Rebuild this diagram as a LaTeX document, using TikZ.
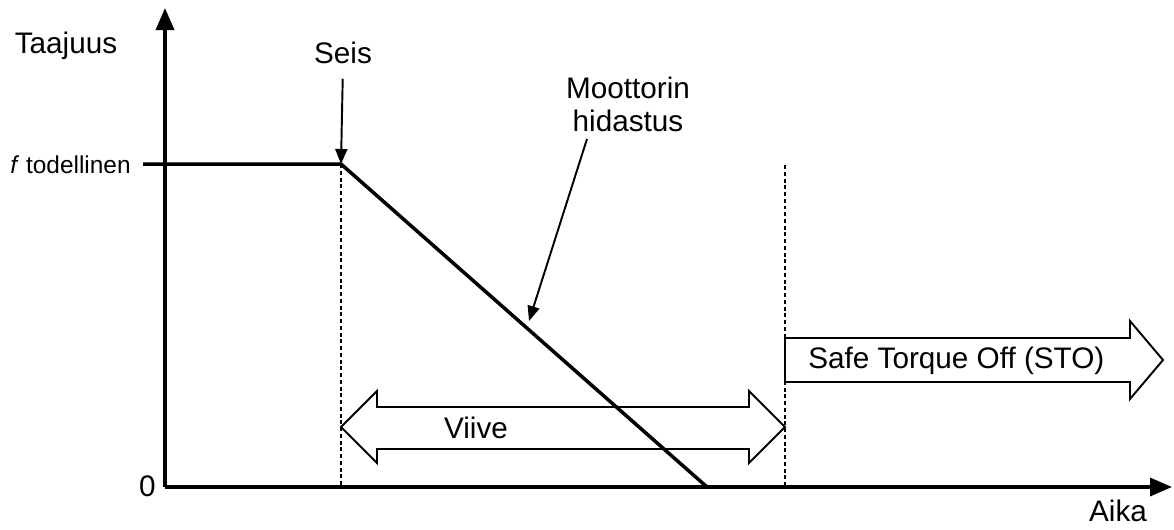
\documentclass[tikz,border=0pt]{standalone}
\usepackage{fontspec}
\setmainfont{Liberation Sans}
\usetikzlibrary{arrows.meta}

\begin{document}
\begin{tikzpicture}[
    x=0.02cm, y=-0.02cm,
    axis/.style={line width=2pt, -{Triangle[length=0.44cm, width=0.36cm]}},
    curve/.style={line width=2pt},
    guide/.style={line width=1.1pt, dash pattern=on 0.08cm off 0.055cm},
    pointer/.style={line width=1.1pt, -{Triangle[length=0.3cm, width=0.24cm]}},
    band/.style={draw, fill=white, line width=1.1pt, line join=miter},
    lbl/.style={font=\fontsize{16.9}{18.7}\selectfont, inner sep=0pt},
    small/.style={font=\fontsize{13.9}{16}\selectfont, inner sep=0pt}
]
\useasboundingbox (0,0) rectangle (1174,529);

% Akselit
\coordinate (origo) at (165,487);
\coordinate (ytop) at (165,8);
\coordinate (xend) at (1172,487);
\draw[axis] (origo) -- (ytop);
\draw[axis] (origo) -- (xend);

\node[lbl] (taajuus) at (66,46) {Taajuus};
\node[lbl] (aika) at (1118,511) {Aika};
\node[lbl, anchor=east] (nolla) at (156,486) {0};

% Taajuustaso
\node[small, anchor=east] (fnom) at (131,165) {\textit{f} todellinen};
\coordinate (ftick) at (143,164);
\coordinate (seis) at (341,164);
\coordinate (loppu) at (707,487);

% Apuviivat
\coordinate (seisala) at (341,487);
\coordinate (stoyla) at (785,165);
\coordinate (stoala) at (785,487);

% Viive-nuoli
\draw[band] (341,427) -- (377,391) -- (377,407) -- (749,407) -- (749,391)
    -- (785,427) -- (749,463) -- (749,449) -- (377,449) -- (377,463) -- cycle;
\node[lbl] (viive) at (476,428) {Viive};

% STO-nuoli
\draw[band] (785,338) -- (1130,338) -- (1130,321) -- (1163,360)
    -- (1130,399) -- (1130,382) -- (785,382) -- cycle;
\node[lbl, anchor=west] (sto) at (808,361) {Safe Torque Off (STO)};

\draw[guide] (seis) -- (seisala);
\draw[guide] (stoyla) -- (stoala);

% Taajuuskayra
\draw[curve] (ftick) -- (seis) -- (loppu);

% Seis
\node[lbl] (seisteksti) at (343,53) {Seis};
\draw[pointer, shorten <=0.29cm] (seisteksti.south) -- (seis);

% Moottorin hidastus
\node[lbl, align=center] (moottori) at (628,104) {Moottorin\\hidastus};
\coordinate (mhanta) at (587,139);
\coordinate (mkarki) at (529,321);
\draw[pointer] (mhanta) -- (mkarki);
\end{tikzpicture}
\end{document}
